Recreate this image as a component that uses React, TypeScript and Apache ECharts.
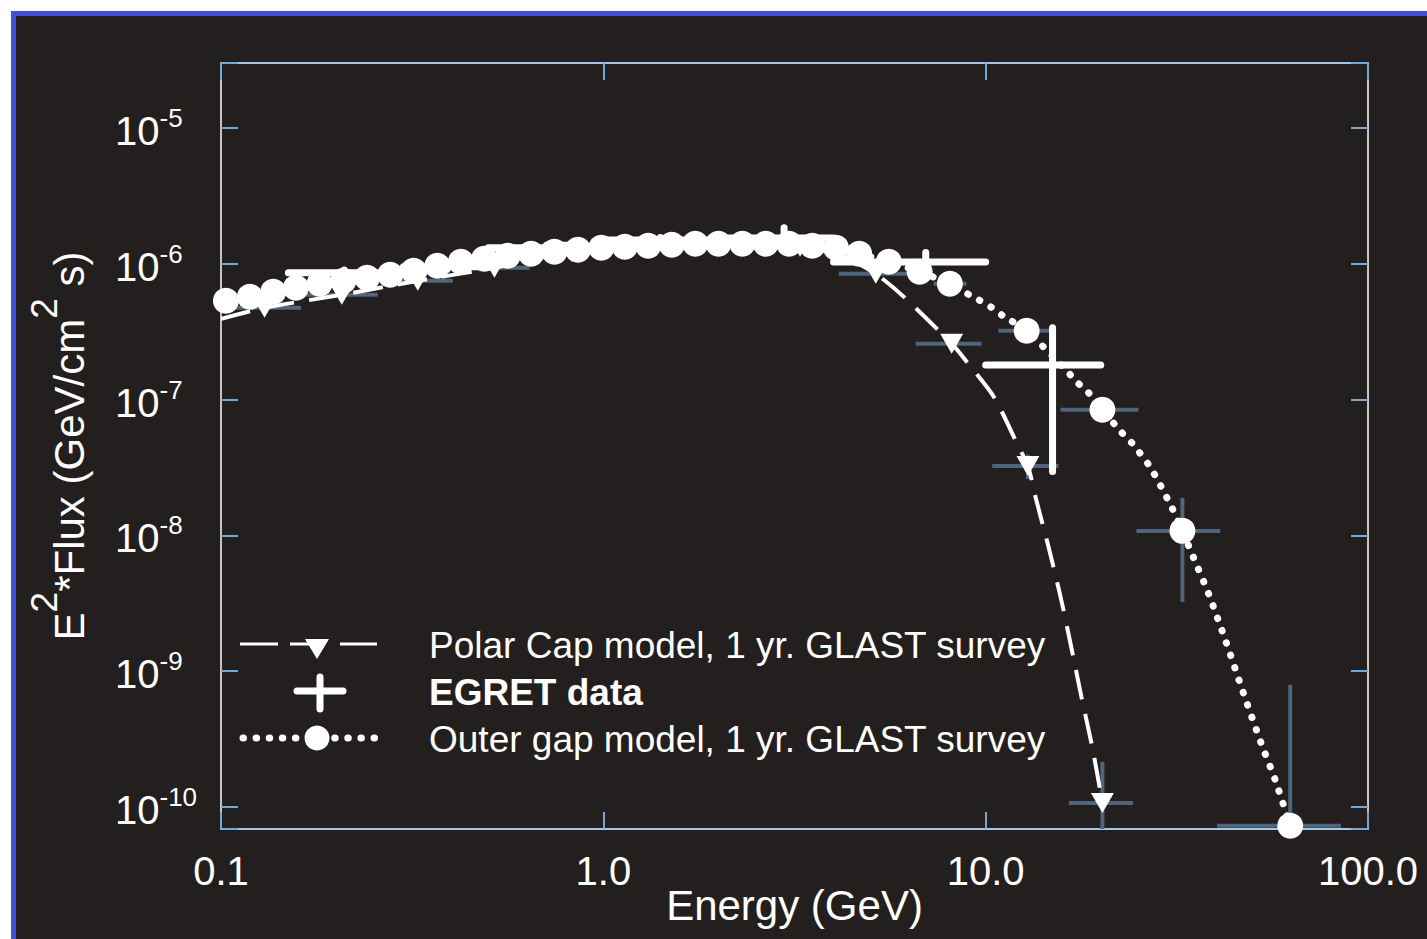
import React, { useEffect, useRef } from 'react';
import * as echarts from 'echarts';

const FONT = '"Liberation Sans", Arial, Helvetica, sans-serif';

// Axis tick labels
const xTickLabels = ['0.1', '1.0', '10.0', '100.0'];
const yTickExponents = [-10, -9, -8, -7, -6, -5];

// Outer gap model, simulated 1 yr. GLAST points (energy in GeV, E^2*Flux in GeV/cm^2 s)
const outerGapEnergy = [
  0.103, 0.119, 0.137, 0.157, 0.181, 0.209, 0.241, 0.277, 0.319, 0.368,
  0.424, 0.488, 0.562, 0.647, 0.745, 0.858, 0.988, 1.138, 1.31, 1.51,
  1.74, 2.0, 2.31, 2.66, 3.06, 3.52, 4.06, 4.67, 5.58, 6.72,
  8.06, 12.8, 20.2, 32.7, 62.6,
];
const outerGapFlux = [
  5.34e-7, 5.71e-7, 6.22e-7, 6.66e-7, 7.12e-7, 7.49e-7, 7.89e-7, 8.3e-7, 8.88e-7, 9.67e-7,
  1.034e-6, 1.088e-6, 1.145e-6, 1.185e-6, 1.226e-6, 1.268e-6, 1.311e-6, 1.334e-6, 1.357e-6, 1.38e-6,
  1.404e-6, 1.404e-6, 1.404e-6, 1.404e-6, 1.404e-6, 1.357e-6, 1.311e-6, 1.185e-6, 1.034e-6, 8.73e-7,
  7.12e-7, 3.21e-7, 8.41e-8, 1.08e-8, 7.28e-11,
];
// Error bars of the resolved outer gap bins
const outerBarEnergy = [8.06, 12.8, 20.2, 32.7, 62.6];
const outerBarFlux = [7.12e-7, 3.21e-7, 8.41e-8, 1.08e-8, 7.28e-11];
const outerBarLow = [7.31, 10.8, 15.7, 24.8, 40.3];
const outerBarHigh = [8.91, 14.9, 25.1, 41.1, 85.0];
const outerBarFluxLow = [7.12e-7, 3.0e-7, 7.7e-8, 3.24e-9, 5e-11];
const outerBarFluxHigh = [7.12e-7, 3.4e-7, 9.2e-8, 1.89e-8, 7.94e-10];

// Outer gap model curve
const outerCurveEnergy = [
  0.1, 0.2, 0.4, 0.7, 1.0, 1.5, 2.0, 3.0, 4.0, 4.67,
  5.58, 6.72, 8.06, 8.87, 9.59, 10.4, 11.1, 12.8, 16.2, 17.3,
  18.6, 20.2, 22.6, 24.1, 27.0, 30.6, 32.7, 34.9, 38.2, 42.6,
  47.2, 52.5, 57.2, 62.6,
];
const outerCurveFlux = [
  5.16e-7, 7.4e-7, 1.01e-6, 1.21e-6, 1.31e-6, 1.38e-6, 1.404e-6, 1.404e-6, 1.32e-6, 1.185e-6,
  1.034e-6, 8.73e-7, 7.12e-7, 6.11e-7, 5.43e-7, 4.74e-7, 4.14e-7, 3.21e-7, 1.66e-7, 1.35e-7,
  1.12e-7, 8.41e-8, 5.79e-8, 4.81e-8, 3.15e-8, 1.63e-8, 1.08e-8, 6.95e-9, 3.78e-9, 1.62e-9,
  6.93e-10, 2.97e-10, 1.58e-10, 7.28e-11,
];

// Polar cap model, simulated 1 yr. GLAST points
const polarEnergy = [0.13, 0.207, 0.327, 0.519, 0.825, 1.3, 2.07, 3.27, 5.16, 8.15, 12.9, 20.2];
const polarFlux = [4.74e-7, 5.92e-7, 7.5e-7, 9.34e-7, 1.226e-6, 1.311e-6, 1.357e-6, 1.334e-6, 8.44e-7, 2.58e-7, 3.25e-8, 1.07e-10];
const polarLow = [0.105, 0.167, 0.265, 0.421, 0.668, 1.06, 1.68, 2.65, 4.13, 6.56, 10.4, 16.5];
const polarHigh = [0.162, 0.257, 0.404, 0.641, 1.02, 1.61, 2.55, 4.04, 6.37, 9.76, 15.5, 24.3];
const polarFluxLow = [4.74e-7, 5.92e-7, 7.5e-7, 9.34e-7, 1.226e-6, 1.311e-6, 1.357e-6, 1.334e-6, 8.44e-7, 2.58e-7, 2.6e-8, 5e-11];
const polarFluxHigh = [4.74e-7, 5.92e-7, 7.5e-7, 9.34e-7, 1.226e-6, 1.311e-6, 1.357e-6, 1.334e-6, 8.44e-7, 2.58e-7, 3.93e-8, 2.15e-10];

// Polar cap model curve
const polarCurveEnergy = [
  0.1, 0.13, 0.207, 0.327, 0.519, 0.825, 1.3, 2.07, 3.27, 4.2,
  5.16, 6.11, 8.15, 8.92, 10.5, 12.2, 12.9, 13.5, 14.6, 15.7,
  16.7, 17.8, 19.0, 20.2,
];
const polarCurveFlux = [
  3.93e-7, 4.74e-7, 5.92e-7, 7.5e-7, 9.34e-7, 1.226e-6, 1.311e-6, 1.357e-6, 1.334e-6, 1.145e-6,
  8.44e-7, 5.71e-7, 2.58e-7, 1.9e-7, 1.05e-7, 4.49e-8, 3.25e-8, 1.92e-8, 8.24e-9, 3.53e-9,
  1.56e-9, 6.48e-10, 2.77e-10, 1.07e-10,
];

// EGRET measurements
const egretLow = [0.15, 0.3, 0.5, 1, 2, 4, 10];
const egretHigh = [0.3, 0.5, 1, 2, 4, 10, 20];
const egretEnergy = [0.21, 0.39, 0.71, 1.41, 2.97, 6.97, 14.96];
const egretFlux = [8.6e-7, 9.5e-7, 1.31e-6, 1.5e-6, 1.55e-6, 1.03e-6, 1.8e-7];
const egretFluxLow = [8.2e-7, 9.1e-7, 1.25e-6, 1.44e-6, 1.3e-6, 8.9e-7, 2.95e-8];
const egretFluxHigh = [9.0e-7, 9.9e-7, 1.37e-6, 1.56e-6, 1.84e-6, 1.21e-6, 3.38e-7];

const legendLabels = [
  'Polar Cap model, 1 yr. GLAST survey',
  'EGRET data',
  'Outer gap model, 1 yr. GLAST survey',
];

const zip = (a: number[], b: number[]) => a.map((v, i) => [v, b[i]]);
const bars = (e: number[], f: number[], lo: number[], hi: number[], flo: number[], fhi: number[]) =>
  e.map((v, i) => [v, f[i], lo[i], hi[i], flo[i], fhi[i]]);

const makeCross = (color: string, width: number, cap: string) => (_params: any, api: any) => {
  const c = api.coord([api.value(0), api.value(1)]);
  const l = api.coord([api.value(2), api.value(1)]);
  const r = api.coord([api.value(3), api.value(1)]);
  const lo = api.coord([api.value(0), api.value(4)]);
  const hi = api.coord([api.value(0), api.value(5)]);
  const style = { stroke: color, lineWidth: width, lineCap: cap };
  return {
    type: 'group',
    children: [
      { type: 'line', shape: { x1: l[0], y1: c[1], x2: r[0], y2: c[1] }, style },
      { type: 'line', shape: { x1: c[0], y1: lo[1], x2: c[0], y2: hi[1] }, style },
    ],
  };
};

const xLabel = (v: number) => {
  const e = Math.round(Math.log10(v));
  if (Math.abs(Math.log10(v) - e) > 1e-6) return '';
  return xTickLabels[e + 1] ?? '';
};
const yLabel = (v: number) => {
  const e = Math.round(Math.log10(v));
  if (Math.abs(Math.log10(v) - e) > 1e-6 || !yTickExponents.includes(e)) return '';
  return `{b|10}{s|${e}}`;
};

const WHITE = '#ffffff';
const TICK = '#72a7d8';
const ERR = '#4f657b';

const xCommon = {
  type: 'log',
  logBase: 10,
  min: 0.1,
  max: 100,
  splitLine: { show: false },
  minorTick: { show: false },
  axisTick: { inside: true, length: 17, lineStyle: { color: TICK, width: 2 } },
};
const yCommon = {
  type: 'log',
  logBase: 10,
  min: 6.89e-11,
  max: 3.01e-5,
  splitLine: { show: false },
  minorTick: { show: false },
  axisTick: { inside: true, length: 17, lineStyle: { color: TICK, width: 2 } },
};

const legendY = [644, 691, 738];

const option: any = {
  animation: false,
  backgroundColor: '#ffffff',
  textStyle: { fontFamily: FONT },
  graphic: [
    { type: 'rect', z: -100, silent: true, shape: { x: 11, y: 11, width: 1416, height: 928 }, style: { fill: '#4150d6' } },
    { type: 'rect', z: -99, silent: true, shape: { x: 16, y: 16, width: 1411, height: 923 }, style: { fill: '#231f1e' } },
    // legend: polar cap
    { type: 'line', z: 100, silent: true, shape: { x1: 240, y1: legendY[0], x2: 278, y2: legendY[0] }, style: { stroke: WHITE, lineWidth: 3 } },
    { type: 'line', z: 100, silent: true, shape: { x1: 290, y1: legendY[0], x2: 325, y2: legendY[0] }, style: { stroke: WHITE, lineWidth: 3 } },
    { type: 'line', z: 100, silent: true, shape: { x1: 340, y1: legendY[0], x2: 377, y2: legendY[0] }, style: { stroke: WHITE, lineWidth: 3 } },
    { type: 'polygon', z: 101, silent: true, shape: { points: [[305, legendY[0] - 5], [329, legendY[0] - 5], [317, legendY[0] + 15]] }, style: { fill: WHITE } },
    // legend: EGRET
    { type: 'line', z: 100, silent: true, shape: { x1: 297, y1: legendY[1], x2: 343, y2: legendY[1] }, style: { stroke: WHITE, lineWidth: 7, lineCap: 'round' } },
    { type: 'line', z: 100, silent: true, shape: { x1: 320, y1: legendY[1] - 14, x2: 320, y2: legendY[1] + 18 }, style: { stroke: WHITE, lineWidth: 7, lineCap: 'round' } },
    // legend: outer gap
    { type: 'line', z: 100, silent: true, shape: { x1: 243, y1: legendY[2], x2: 380, y2: legendY[2] }, style: { stroke: WHITE, lineWidth: 7, lineCap: 'round', lineDash: [0.5, 12.6] } },
    { type: 'circle', z: 101, silent: true, shape: { cx: 317, cy: legendY[2], r: 12.5 }, style: { fill: WHITE } },
    ...legendLabels.map((t, i) => ({
      type: 'text',
      z: 100,
      silent: true,
      x: 429,
      y: legendY[i] + 1,
      style: {
        text: t,
        fill: WHITE,
        fontSize: 37,
        fontFamily: FONT,
        fontWeight: i === 1 ? 'bold' : 'normal',
        verticalAlign: 'middle',
        align: 'left',
      },
    })),
  ],
  grid: { left: 221, top: 63, width: 1147, height: 766, containLabel: false, outerBoundsMode: 'none' },
  xAxis: [
    {
      ...xCommon,
      position: 'bottom',
      name: 'Energy (GeV)',
      nameLocation: 'middle',
      nameGap: 55,
      nameMoveOverlap: false,
      nameTextStyle: { color: WHITE, fontSize: 42, fontFamily: FONT },
      axisLine: { lineStyle: { color: '#a4c6e6', width: 2 } },
      axisLabel: { color: WHITE, fontSize: 40, fontFamily: FONT, margin: 22, formatter: xLabel },
    },
    {
      ...xCommon,
      position: 'top',
      axisLine: { lineStyle: { color: '#a4c6e6', width: 2 } },
      axisLabel: { show: false },
    },
  ],
  yAxis: [
    {
      ...yCommon,
      position: 'left',
      name: '{b|E}{s|2}{b|*Flux (GeV/cm}{s|2}{b| s)}',
      nameLocation: 'middle',
      nameGap: 131,
      nameMoveOverlap: false,
      nameTextStyle: {
        color: WHITE,
        fontFamily: FONT,
        fontSize: 42,
        rich: {
          b: { color: WHITE, fontFamily: FONT, fontSize: 42, lineHeight: 64, verticalAlign: 'bottom' },
          s: { color: WHITE, fontFamily: FONT, fontSize: 37, lineHeight: 37, verticalAlign: 'top' },
        },
      },
      axisLine: { lineStyle: { color: '#c4c4c4', width: 2 } },
      axisLabel: {
        color: WHITE,
        fontFamily: FONT,
        margin: 106,
        align: 'left',
        formatter: yLabel,
        rich: {
          b: { color: WHITE, fontFamily: FONT, fontSize: 40, lineHeight: 46, verticalAlign: 'bottom' },
          s: { color: WHITE, fontFamily: FONT, fontSize: 26, lineHeight: 28, verticalAlign: 'top' },
        },
      },
    },
    {
      ...yCommon,
      position: 'right',
      axisLine: { lineStyle: { color: '#c4c4c4', width: 2 } },
      axisLabel: { show: false },
    },
  ],
  series: [
    {
      type: 'custom',
      name: 'GLAST errors',
      silent: true,
      clip: true,
      z: 1,
      renderItem: makeCross(ERR, 4, 'butt'),
      encode: { x: 0, y: 1 },
      data: [
        ...bars(polarEnergy, polarFlux, polarLow, polarHigh, polarFluxLow, polarFluxHigh),
        ...bars(outerBarEnergy, outerBarFlux, outerBarLow, outerBarHigh, outerBarFluxLow, outerBarFluxHigh),
      ],
    },
    {
      type: 'custom',
      name: legendLabels[1],
      silent: true,
      clip: true,
      z: 2,
      renderItem: makeCross(WHITE, 7, 'round'),
      encode: { x: 0, y: 1 },
      data: bars(egretEnergy, egretFlux, egretLow, egretHigh, egretFluxLow, egretFluxHigh),
    },
    {
      type: 'line',
      name: 'Polar Cap curve',
      silent: true,
      z: 3,
      symbol: 'none',
      smooth: 0.25,
      lineStyle: { color: WHITE, width: 4, type: [30, 15] },
      data: zip(polarCurveEnergy, polarCurveFlux),
    },
    {
      type: 'scatter',
      name: legendLabels[0],
      silent: true,
      z: 4,
      symbol: 'triangle',
      symbolRotate: 180,
      symbolSize: [23, 20],
      itemStyle: { color: WHITE, opacity: 1 },
      data: zip(polarEnergy, polarFlux),
    },
    {
      type: 'line',
      name: 'Outer gap curve',
      silent: true,
      z: 5,
      symbol: 'none',
      smooth: 0.25,
      lineStyle: { color: WHITE, width: 7, type: [0.5, 12.6], cap: 'round' },
      data: zip(outerCurveEnergy, outerCurveFlux),
    },
    {
      type: 'scatter',
      name: legendLabels[2],
      silent: true,
      z: 6,
      symbol: 'circle',
      symbolSize: 26,
      itemStyle: { color: WHITE, opacity: 1 },
      data: zip(outerGapEnergy, outerGapFlux),
    },
  ],
};

export default function App() {
  const ref = useRef<HTMLDivElement>(null);
  useEffect(() => {
    if (!ref.current) return;
    const chart = echarts.init(ref.current, null, { renderer: 'svg' });
    chart.setOption(option);
    return () => chart.dispose();
  }, []);
  return (
    <div
      ref={ref}
      style={{ position: 'absolute', left: 0, top: 0, width: 1427, height: 939 }}
    />
  );
}
